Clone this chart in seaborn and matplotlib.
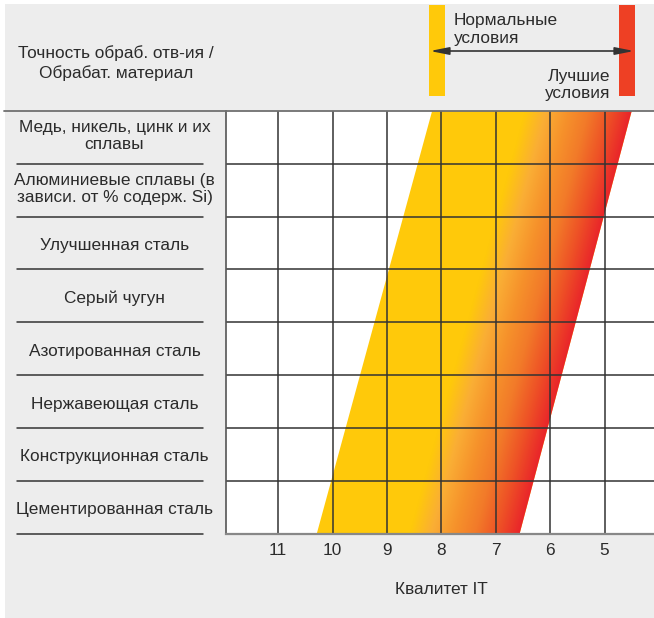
import numpy as np
import matplotlib
matplotlib.use("Agg")
import matplotlib.pyplot as plt
import seaborn as sns
from matplotlib.colors import LinearSegmentedColormap
from matplotlib.patches import Polygon, Rectangle, FancyArrowPatch, ArrowStyle
from matplotlib.lines import Line2D
from matplotlib.transforms import blended_transform_factory

# ---------------- data ----------------
materials = [
    "Медь, никель, цинк и их\nсплавы",
    "Алюминиевые сплавы (в\nзависи. от % содерж. Si)",
    "Улучшенная сталь",
    "Серый чугун",
    "Азотированная сталь",
    "Нержавеющая сталь",
    "Конструкционная сталь",
    "Цементированная сталь",
]
it_grades = [11, 10, 9, 8, 7, 6, 5]
it_labels = ["11", "10", "9", "8", "7", "6", "5"]
# band edges in IT units: [at bottom of chart, at top of chart]
band_left = [10.29, 8.17]
gradient_start = [8.58, 6.46]
band_right = [6.56, 4.50]
header_left = "Точность обраб. отв-ия /\nОбрабат. материал"
normal_text = "Нормальные\nусловия"
best_text = "Лучшие\nусловия"
x_title = "Квалитет IT"

yellow = "#FFC90A"
red_bar = "#EE4024"
gradient_colors = ["#FFC90A", "#FAAE35", "#F6922B", "#F27A29", "#EE5226", "#E9252A"]

# ---------------- layout ----------------
W, H = 654, 618
sns.set_theme(style="white")
plt.rcParams["font.family"] = ["Liberation Sans", "DejaVu Sans"]
TXT = "#2b2b2b"
FS = 12.4

fig = plt.figure(figsize=(W / 100, H / 100), dpi=100)
fig.patch.set_facecolor("white")


def fx(px):
    return px / W


def fy(py):
    return 1 - py / H


fig.add_artist(Rectangle((fx(5), 0), 1 - fx(5), fy(4), transform=fig.transFigure,
                         facecolor="#EDEDED", edgecolor="none", zorder=0))

ax_top, ax_bot, ax_left = 111, 533.5, 226
ax = fig.add_axes([fx(ax_left), fy(ax_bot), 1 - fx(ax_left), (ax_bot - ax_top) / H])
ax.set_facecolor("white")
n = len(materials)

# band (yellow part)
band = Polygon([(band_left[0], n), (band_left[1], 0), (band_right[1], 0), (band_right[0], n)],
               closed=True, facecolor=yellow, edgecolor="none", zorder=1)
ax.add_patch(band)

# gradient part
xs = np.linspace(4.0, 12.0, 900)
ys = np.linspace(0, n, 300)
X, Y = np.meshgrid(xs, ys)
frac = (n - Y) / n
xs0 = gradient_start[0] + (gradient_start[1] - gradient_start[0]) * frac
xr = band_right[0] + (band_right[1] - band_right[0]) * frac
T = np.clip((xs0 - X) / (xs0 - xr), 0, 1)
cmap = LinearSegmentedColormap.from_list("grad", gradient_colors)
grad_poly = Polygon([(gradient_start[0], n), (gradient_start[1], 0), (band_right[1], 0), (band_right[0], n)],
                    closed=True, facecolor="none", edgecolor="none")
ax.add_patch(grad_poly)
im = ax.imshow(T, extent=(xs[0], xs[-1], ys[0], ys[-1]), origin="lower", cmap=cmap,
               vmin=0, vmax=1, aspect="auto", interpolation="bilinear", zorder=2)
im.set_clip_path(grad_poly)
ax.set_xlim(11.96, 4.09)
ax.set_ylim(n, 0)

# grid
for g in it_grades:
    ax.axvline(g, color="#333333", lw=1.1, zorder=3)
for i in range(1, n):
    ax.axhline(i, color="#333333", lw=1.1, zorder=3)

for s in ["top", "right"]:
    ax.spines[s].set_visible(False)
ax.spines["left"].set_color("#555555")
ax.spines["left"].set_linewidth(1.2)
ax.spines["bottom"].set_color("#888888")
ax.spines["bottom"].set_linewidth(1.6)
ax.spines["left"].set_zorder(4)
ax.spines["bottom"].set_zorder(4)

ax.set_xticks(it_grades)
ax.set_xticklabels(it_labels, fontsize=FS, color=TXT)
ax.tick_params(axis="x", length=0, pad=7)
ax.set_yticks([])
ax.grid(False)

# top separator line across the whole figure
fig.add_artist(Line2D([fx(4), 1], [fy(111), fy(111)], transform=fig.transFigure,
                      color="#707070", lw=1.3, zorder=5))

# row labels + separators
bt = blended_transform_factory(fig.transFigure, ax.transData)
for i, m in enumerate(materials):
    yoff = 0.47 if "\n" in m else 0.55
    ax.text(fx(114.5), i + yoff, m, transform=bt, ha="center", va="center",
            fontsize=FS, color=TXT, linespacing=1.18, clip_on=False)
    ax.add_line(Line2D([fx(17), fx(203)], [i + 1, i + 1], transform=bt,
                       color="#333333", lw=1.1, clip_on=False))

# header
fig.text(fx(116), fy(63), header_left, ha="center", va="center", fontsize=FS,
         color=TXT, linespacing=1.35)
fig.add_artist(Rectangle((fx(429), fy(96)), fx(16), 91 / H, transform=fig.transFigure,
                         facecolor=yellow, edgecolor="none", zorder=2))
fig.add_artist(Rectangle((fx(619), fy(96)), fx(16), 91 / H, transform=fig.transFigure,
                         facecolor=red_bar, edgecolor="none", zorder=2))
arrow = FancyArrowPatch((fx(430), fy(51)), (fx(634), fy(51)), transform=fig.transFigure,
                        arrowstyle=ArrowStyle("<|-|>", head_length=0.8, head_width=0.16),
                        mutation_scale=14, color="#333333", lw=1.2,
                        shrinkA=0, shrinkB=0, zorder=6)
fig.add_artist(arrow)
fig.text(fx(454), fy(29.5), normal_text, ha="left", va="center", fontsize=FS,
         color=TXT, linespacing=1.2)
fig.text(fx(610), fy(85), best_text, ha="right", va="center", fontsize=FS,
         color=TXT, linespacing=1.2)

fig.text(fx(441), fy(590), x_title, ha="center", va="center", fontsize=FS, color=TXT)

fig.savefig("out.png", dpi=100, facecolor=fig.get_facecolor())
